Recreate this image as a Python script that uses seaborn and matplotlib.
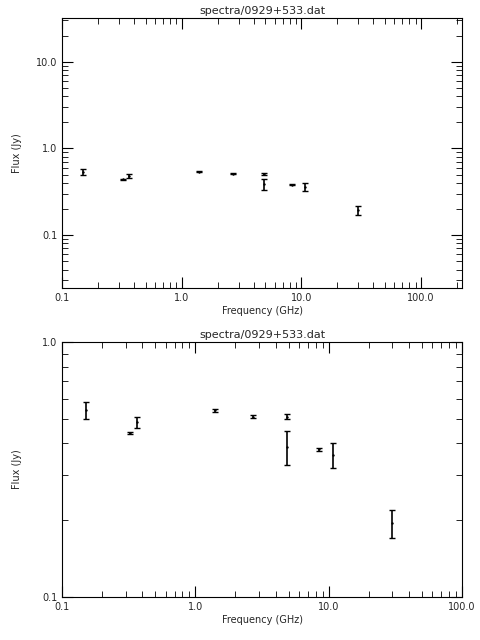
import numpy as np
import pandas as pd
import matplotlib
matplotlib.use("Agg")
import matplotlib.pyplot as plt
import seaborn as sns
from matplotlib.ticker import FixedLocator, FixedFormatter, LogLocator, NullFormatter

freq = [0.151, 0.325, 0.365, 1.4, 2.7, 4.85, 4.85, 8.4, 10.7, 30.0]
flux = [0.54, 0.44, 0.485, 0.54, 0.51, 0.51, 0.388, 0.38, 0.36, 0.195]
err = [0.04, 0.005, 0.025, 0.008, 0.008, 0.01, 0.058, 0.005, 0.04, 0.024]
title = "spectra/0929+533.dat"

df = pd.DataFrame({"freq": freq, "flux": flux, "err": err})
sns.set_style("ticks")
plt.rcParams["font.family"] = ["DejaVu Sans"]

fig = plt.figure(figsize=(4.8, 6.4), dpi=100)
ax1 = fig.add_axes([62/480, 1-288/640, 400/480, 270/640])
ax2 = fig.add_axes([62/480, 1-597/640, 400/480, 255/640])

def style(ax, xlim, ylim, xt, yt):
    ax.errorbar(df.freq, df.flux, yerr=df.err, fmt="none", ecolor="black", elinewidth=1.2, capsize=2, capthick=1)
    sns.scatterplot(data=df, x="freq", y="flux", ax=ax, color="black", s=3, marker="o", linewidth=0)
    ax.set_xscale("log"); ax.set_yscale("log")
    ax.set_xlim(*xlim); ax.set_ylim(*ylim)
    ax.xaxis.set_major_locator(FixedLocator(xt))
    ax.xaxis.set_major_formatter(FixedFormatter([f"{v:.1f}" for v in xt]))
    ax.yaxis.set_major_locator(FixedLocator(yt))
    ax.yaxis.set_major_formatter(FixedFormatter([f"{v:.1f}" for v in yt]))
    ax.xaxis.set_minor_locator(LogLocator(subs=np.arange(2, 10)))
    ax.yaxis.set_minor_locator(LogLocator(subs=np.arange(2, 10)))
    ax.xaxis.set_minor_formatter(NullFormatter()); ax.yaxis.set_minor_formatter(NullFormatter())
    ax.tick_params(which="both", direction="in", top=True, right=True, labelsize=7, color="black")
    ax.tick_params(which="major", length=8); ax.tick_params(which="minor", length=4)
    for s in ax.spines.values():
        s.set_color("black"); s.set_linewidth(0.8)
    ax.set_xlabel("Frequency (GHz)", fontsize=7, labelpad=2)
    ax.set_ylabel("Flux (Jy)", fontsize=7)
    ax.yaxis.set_label_coords(-0.1, 0.5)
    ax.set_title(title, fontsize=8, pad=3)

style(ax1, (0.1, 220), (0.0245, 32), [0.1, 1.0, 10.0, 100.0], [0.1, 1.0, 10.0])
style(ax2, (0.1, 100), (0.1, 1.0), [0.1, 1.0, 10.0, 100.0], [0.1, 1.0])
fig.savefig("out.png", dpi=100, facecolor="white")
